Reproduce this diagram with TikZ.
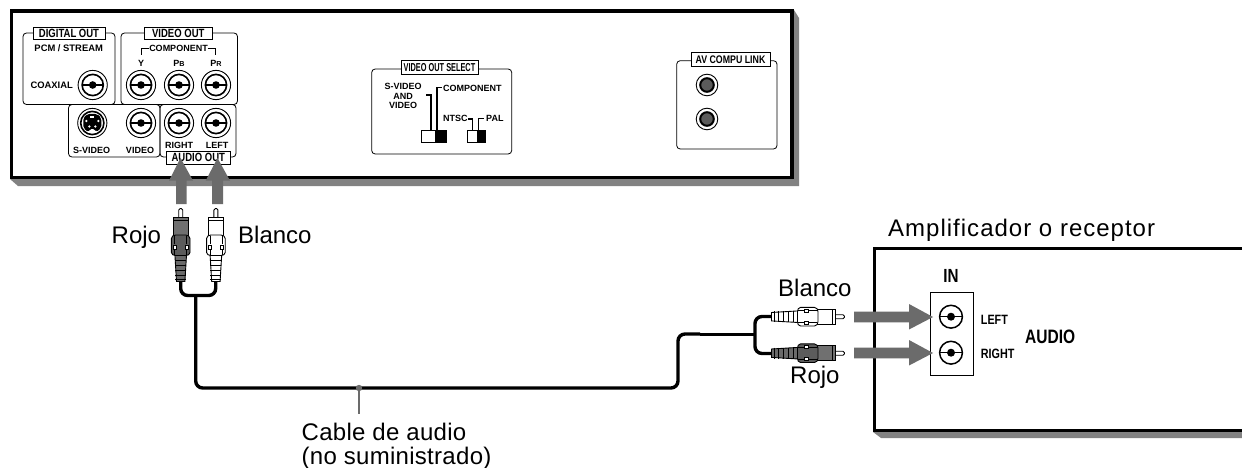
\documentclass[tikz,border=0pt]{standalone}
\usepackage{fontspec}
\setmainfont{Liberation Sans}
\newfontfamily\cond[FakeStretch=0.8]{Liberation Sans}
\newfontfamily\condn[FakeStretch=0.64]{Liberation Sans}
\newfontfamily\spaced[LetterSpace=4.2]{Liberation Sans}
\newfontfamily\spacedb[LetterSpace=1.2]{Liberation Sans}
\newcommand{\fs}[1]{\fontsize{#1}{#1}\selectfont}
\definecolor{arrowgrey}{HTML}{6B6B6B}
\definecolor{shadowgrey}{HTML}{828282}
\definecolor{plugdark}{HTML}{707070}
\definecolor{collardark}{HTML}{5C5C5C}
\definecolor{ribdark}{HTML}{6A6A6A}
\tikzset{
  frame/.style={draw=black,line width=3.5pt,fill=white},
  shadowfill/.style={fill=shadowgrey,draw=none},
  group/.style={draw=black,line width=0.8pt,rounded corners=3.5pt},
  tagbox/.style={draw=black,line width=0.8pt,fill=white,inner sep=0pt,anchor=center,text depth=0pt},
  tag/.style={font=\cond\bfseries\fs{11.9}},
  small/.style={font=\bfseries\fs{9},inner sep=0pt,anchor=center},
  big/.style={font=\fs{24},inner sep=0pt,anchor=base west},
  bigcond/.style={font=\cond\bfseries,inner sep=0pt,anchor=center},
  cable/.style={draw=black,line width=3.4pt,rounded corners=7pt},
  thincable/.style={draw=black,line width=3pt},
  bigarrow/.style={fill=arrowgrey,draw=none},
  swbox/.style={draw=black,line width=0.9pt,fill=white},
}
% RCA jack with outer ring
\newcommand{\jack}[2]{%
  \begin{scope}[shift={(#1,#2)}]
    \draw[line width=0.9pt] (0,0) circle (14.6);
    \draw[line width=1.6pt] (0,0) circle (10.6);
    \draw[line width=1.1pt] (-10.6,0) -- (10.6,0);
    \fill (0,0) circle (3.8);
  \end{scope}}
\newcommand{\inputjack}[2]{%
  \begin{scope}[shift={(#1,#2)}]
    \draw[line width=1.5pt] (0,0) circle (11.4);
    \draw[line width=0.9pt] (-11.4,0) -- (11.4,0);
    \fill (0,0) circle (4);
  \end{scope}}
\newcommand{\minijack}[2]{%
  \begin{scope}[shift={(#1,#2)}]
    \draw[line width=0.9pt] (0,0) circle (10.8);
    \draw[line width=2pt,fill=arrowgrey!85!black] (0,0) circle (6.8);
  \end{scope}}
% plug: tip at local origin, axis running away from the tip
\newcommand{\plug}[6]{% x,y,rotation,body fill,collar fill,rib fill
  \begin{scope}[shift={(#1,#2)},rotate=#3]
    \draw[line width=0.9pt,fill=white,rounded corners=1.5pt] (-2,9.5) -- (-2,0.5) -- (2,0.5) -- (2,9.5);
    \draw[line width=0.9pt,fill=#6] (-5.8,47) -- (-4.2,73.5) -- (4.2,73.5) -- (5.8,47) -- cycle;
    \foreach \b in {52,57,62,67,71}{
      \draw[line width=0.9pt] (-5.5,\b) -- (5.5,\b);}
    \draw[line width=0.9pt,fill=#4] (-7.4,9.5) rectangle (7.4,28);
    \draw[line width=0.7pt] (-7.4,12.5) -- (7.4,12.5);
    \draw[line width=0.9pt,fill=#5,rounded corners=1.5pt] (-6.5,47.5) -- (-9.3,46) -- (-9.3,29) -- (-6.5,27) -- (6.5,27) -- (9.3,29) -- (9.3,46) -- (6.5,47.5) -- cycle;
    \draw[line width=0.7pt] (-6,28) -- (-6,36) (6,28) -- (6,36);
    \draw[line width=0.7pt,fill=white] (-7.5,37) rectangle (-4.5,41);
    \draw[line width=0.7pt,fill=white] (4.5,37) rectangle (7.5,41);
    \draw[line width=0.7pt] (-6,41) -- (-6,47) (6,41) -- (6,47);
  \end{scope}}
\begin{document}
\begin{tikzpicture}[x=1pt,y=-1pt]
\useasboundingbox (0,0) rectangle (1242,468);
\fill[white] (0,0) rectangle (1242,468);

% Player panel
\fill[shadowfill] (794,10) -- (799,18) -- (799,186) -- (18,186) -- (10,179) -- cycle;
\draw[frame] (11.7,11) rectangle (792.2,177.3);

% groups
\draw[group] (68.5,104.5) rectangle (160,157);
\draw[group] (160,104.5) rectangle (236,157);
\draw[group] (23,33) rectangle (115,104.5);
\draw[group] (121,33) rectangle (237.5,104.5);

\node[tagbox,tag,minimum width=72pt,minimum height=12pt] (digitalout) at (69,33) {DIGITAL OUT};
\node[tagbox,tag,minimum width=67.5pt,minimum height=12pt] (videoout) at (178.3,33) {VIDEO OUT};
\node[tagbox,tag,minimum width=63.5pt,minimum height=13pt] (audioout) at (198.3,157.5) {AUDIO OUT};

\node[small,font=\bfseries\fs{9.4}] (pcm) at (68.7,48) {PCM / STREAM};
\node[small,font=\bfseries\fs{9.4}] (coaxial) at (51.7,85.5) {COAXIAL};
\node[small,fill=white,inner xsep=1.5pt] (component) at (178.5,48) {COMPONENT};
\draw[line width=0.8pt] (141.7,55) -- (141.7,48.3) -- (148.5,48.3);
\draw[line width=0.8pt] (207.5,48.3) -- (215.7,48.3) -- (215.7,55);
\node[small] (y) at (141,63) {Y};
\node[small] (pb) at (179,63) {P{\fs{7.2}B}};
\node[small] (pr) at (216,63) {P{\fs{7.2}R}};
\node[small] (svideo) at (91.7,150) {S-VIDEO};
\node[small] (video) at (140,150) {VIDEO};
\node[small] (right) at (179,145) {RIGHT};
\node[small] (left) at (217,145) {LEFT};

\jack{92.7}{85}
\jack{141}{85}
\jack{179}{85}
\jack{216}{85}
\jack{141}{123}
\jack{179}{123}
\jack{216}{123}
% S-Video socket
\begin{scope}[shift={(92.3,123)}]
  \draw[line width=0.9pt] (0,0) circle (14.6);
  \draw[line width=1.6pt] (0,0) circle (11.6);
  \fill[rounded corners=2pt] (-9,-5) -- (-5,-9) -- (5,-9) -- (9,-5) -- (9,5) -- (4,9) -- (3,6) -- (-3,6) -- (-4,9) -- (-9,5) -- cycle;
  \foreach \p/\q in {-6/-2,6/-2,-3/3.5,3/3.5}{\fill[white] (\p,\q) circle (1.3);}
  \fill[white] (-2,-6.5) rectangle (2,-4.5);
\end{scope}

% Video out select
\draw[group] (371.7,69) rectangle (511.7,154);
\node[tagbox,font=\condn\bfseries\fs{11.5},minimum width=77pt,minimum height=14pt] (vos) at (439.5,67) {VIDEO OUT SELECT};
\node[small,align=center] (svav) at (403,96) {S-VIDEO\\[0.4pt]AND\\[0.4pt]VIDEO};
\node[small,anchor=west] (comp2) at (443,88.5) {COMPONENT};
\node[small,anchor=west] (ntsc) at (443,118.5) {NTSC};
\node[small,anchor=west] (pal) at (486,118.5) {PAL};
\draw[line width=1.2pt] (431,130) -- (431,95) -- (425.7,95);
\draw[line width=1.2pt] (437,130) -- (437,87.5) -- (441.7,87.5);
\draw[line width=1.2pt] (472.7,130) -- (472.7,119) -- (468,119);
\draw[line width=1.2pt] (478.7,130) -- (478.7,118.5) -- (484,118.5);
\draw[swbox] (421.7,130) rectangle (446.7,142);
\fill (435,130) rectangle (446.7,142);
\draw[swbox] (467.7,130) rectangle (485.7,142);
\fill (477.3,130) rectangle (485.7,142);

% AV compu link
\draw[group] (676.7,60.7) rectangle (777,149);
\node[tagbox,font=\cond\bfseries\fs{11},minimum width=79pt,minimum height=13.5pt] (avlink) at (730.5,59.5) {AV COMPU LINK};
\minijack{707}{85}
\minijack{707}{119}

% Amplifier
\fill[shadowfill] (873,432) -- (881,438) -- (1242,438) -- (1242,432) -- cycle;
\draw[frame] (1243,248.7) -- (874.7,248.7) -- (874.7,430.5) -- (1243,430.5);
\draw[line width=0.9pt] (930.7,292.7) rectangle (973,375);
\inputjack{951}{316.7}
\inputjack{951}{352.7}
\node[bigcond,font=\cond\bfseries\fs{19}] (in) at (951,276) {IN};
\node[bigcond,font=\cond\bfseries\fs{13.5},anchor=west] (leftin) at (980.7,320) {LEFT};
\node[bigcond,font=\cond\bfseries\fs{13.5},anchor=west] (rightin) at (980.7,354) {RIGHT};
\node[bigcond,font=\cond\bfseries\fs{19.4},anchor=west] (audio) at (1025,337) {AUDIO};

% Cable
\coordinate (redend) at (180.7,281);
\coordinate (whiteend) at (215.7,281);
\coordinate (stem) at (195.7,295.5);
\coordinate (riser) at (678,388);
\coordinate (highrun) at (700,334);
\coordinate (fork) at (755,334);
\coordinate (whitetail) at (773,316.5);
\coordinate (redtail) at (773,353.5);
\coordinate (leaderend) at (359,414);
\coordinate (leaderdot) at (359,388);
\draw[cable] (redend) |- (stem) -| (whiteend);
\draw[cable] (stem) |- (riser) |- (highrun);
\draw[thincable] (highrun) -- (fork);
\draw[cable] (whitetail) -| (fork |- redtail) -- (redtail);
\draw[arrowgrey,line width=2pt] (leaderdot) -- (leaderend);
\fill[arrowgrey] (leaderdot) circle (3.2);

% Plugs
\plug{180.7}{208}{0}{plugdark}{collardark}{ribdark}
\plug{215.9}{208}{0}{white}{white}{white}
\plug{845}{316.7}{-90}{white}{white}{white}
\plug{845}{353.2}{-90}{plugdark}{collardark}{ribdark}

% Arrows
\fill[bigarrow] (176,204) -- (176,180.7) -- (169,180.7) -- (180.5,158) -- (193,180.7) -- (186.7,180.7) -- (186.7,204) -- cycle;
\fill[bigarrow] (212,204) -- (212,180.7) -- (205.7,180.7) -- (217.5,158) -- (230,180.7) -- (223,180.7) -- (223,204) -- cycle;
\fill[bigarrow] (854,311.7) -- (909,311.7) -- (909,304) -- (933,317) -- (909,329.5) -- (909,322.3) -- (854,322.3) -- cycle;
\fill[bigarrow] (854,347.7) -- (909,347.7) -- (909,340) -- (933,353) -- (909,365.5) -- (909,358.3) -- (854,358.3) -- cycle;

% Text labels
\node[big] (rojoa) at (111.5,243) {Rojo};
\node[big] (blancoa) at (238,243) {Blanco};
\node[big] (blancob) at (778,296.7) {Blanco};
\node[big] (rojob) at (790,383) {Rojo};
\node[big,font=\spaced\fs{24}] (amp) at (888,236) {Amplificador o receptor};
\node[big,font=\spacedb\fs{24}] (cablea) at (301.5,440) {Cable de audio};
\node[big,font=\spacedb\fs{24}] (cableb) at (301.5,464) {(no suministrado)};
\end{tikzpicture}
\end{document}
